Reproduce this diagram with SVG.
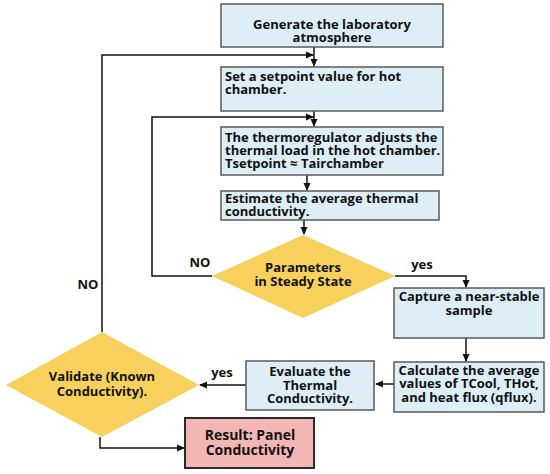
<svg xmlns="http://www.w3.org/2000/svg" width="550" height="474" viewBox="0 0 550 474">
<defs>
<marker id="ah" markerWidth="8" markerHeight="8" refX="7" refY="4" orient="auto" markerUnits="userSpaceOnUse">
<path d="M0,0.5 L8,4 L0,7.5 Z" fill="#111"/>
</marker>
<style>
.box{fill:#DDEEF6;stroke:#5a5a5a;stroke-width:1.5}
.dia{fill:#F8D15C;stroke:none}
.res{fill:#F2B6B4;stroke:#2a2a2a;stroke-width:2}
.t{font-family:"Open Sans","Noto Sans",sans-serif;font-weight:bold;font-size:13px;fill:#111}
.c{text-anchor:middle}
.r{font-size:14px}
.ln{fill:none;stroke:#111;stroke-width:1.5}
</style>
</defs>
<g id="connectors">
<path class="ln" d="M314,47 V66" marker-end="url(#ah)"/>
<path class="ln" d="M102,332 V55 H313" marker-end="url(#ah)"/>
<path class="ln" d="M314,111 V126" marker-end="url(#ah)"/>
<path class="ln" d="M212,276 H152 V117 H313" marker-end="url(#ah)"/>
<path class="ln" d="M307,175 V190" marker-end="url(#ah)"/>
<path class="ln" d="M304,220 V234" marker-end="url(#ah)"/>
<path class="ln" d="M395,276 H466 V287" marker-end="url(#ah)"/>
<path class="ln" d="M466,338 V361" marker-end="url(#ah)"/>
<path class="ln" d="M394,384 H376" marker-end="url(#ah)"/>
<path class="ln" d="M246,385 H200" marker-end="url(#ah)"/>
<path class="ln" d="M100,437 V448 H184" marker-end="url(#ah)"/>
<text class="t" x="200" y="267" text-anchor="middle">NO</text>
<text class="t" x="88" y="289" text-anchor="middle">NO</text>
<text class="t" x="422" y="269" text-anchor="middle">yes</text>
<text class="t" x="222" y="377" text-anchor="middle">yes</text>
</g>
<g id="n1"><rect class="box" x="221" y="4" width="222" height="43"/>
<text class="t c" x="332" y="29">Generate the laboratory<tspan x="332" dy="13">atmosphere</tspan></text></g>
<g id="n2"><rect class="box" x="221" y="67" width="222" height="44"/>
<text class="t" x="225" y="81">Set a setpoint value for hot<tspan x="225" dy="13">chamber.</tspan></text></g>
<g id="n3"><rect class="box" x="221" y="127" width="222" height="48"/>
<text class="t" x="225" y="142">The thermoregulator adjusts the<tspan x="225" dy="13">thermal load in the hot chamber.</tspan><tspan x="225" dy="13">Tsetpoint ≈ Tairchamber</tspan></text></g>
<g id="n4"><rect class="box" x="221" y="191" width="218" height="29"/>
<text class="t" x="225" y="203">Estimate the average thermal<tspan x="225" dy="13">conductivity.</tspan></text></g>
<g id="n5"><polygon class="dia" points="303,235 395,276 303,318 212,276"/>
<text class="t c" x="303" y="272">Parameters<tspan x="303" dy="14">in Steady State</tspan></text></g>
<g id="n6"><rect class="box" x="394" y="288" width="150" height="50"/>
<text class="t c" x="469" y="301">Capture a near-stable<tspan x="469" dy="14">sample</tspan></text></g>
<g id="n7"><rect class="box" x="394" y="362" width="150" height="50"/>
<text class="t c" x="469" y="375">Calculate the average<tspan x="469" dy="13">values of TCool, THot,</tspan><tspan x="469" dy="14">and heat flux (qflux).</tspan></text></g>
<g id="n8"><rect class="box" x="246" y="361" width="128" height="49"/>
<text class="t c" x="310" y="376">Evaluate the<tspan x="310" dy="14">Thermal</tspan><tspan x="310" dy="13">Conductivity.</tspan></text></g>
<g id="n9"><polygon class="dia" points="102,332 199,385 102,437 6,385"/>
<text class="t c" x="102" y="381">Validate (Known<tspan x="102" dy="15">Conductivity).</tspan></text></g>
<g id="n10"><rect class="res" x="185" y="418" width="129" height="50"/>
<text class="t c r" x="250" y="440">Result: Panel<tspan x="250" dy="15">Conductivity</tspan></text></g>
</svg>
